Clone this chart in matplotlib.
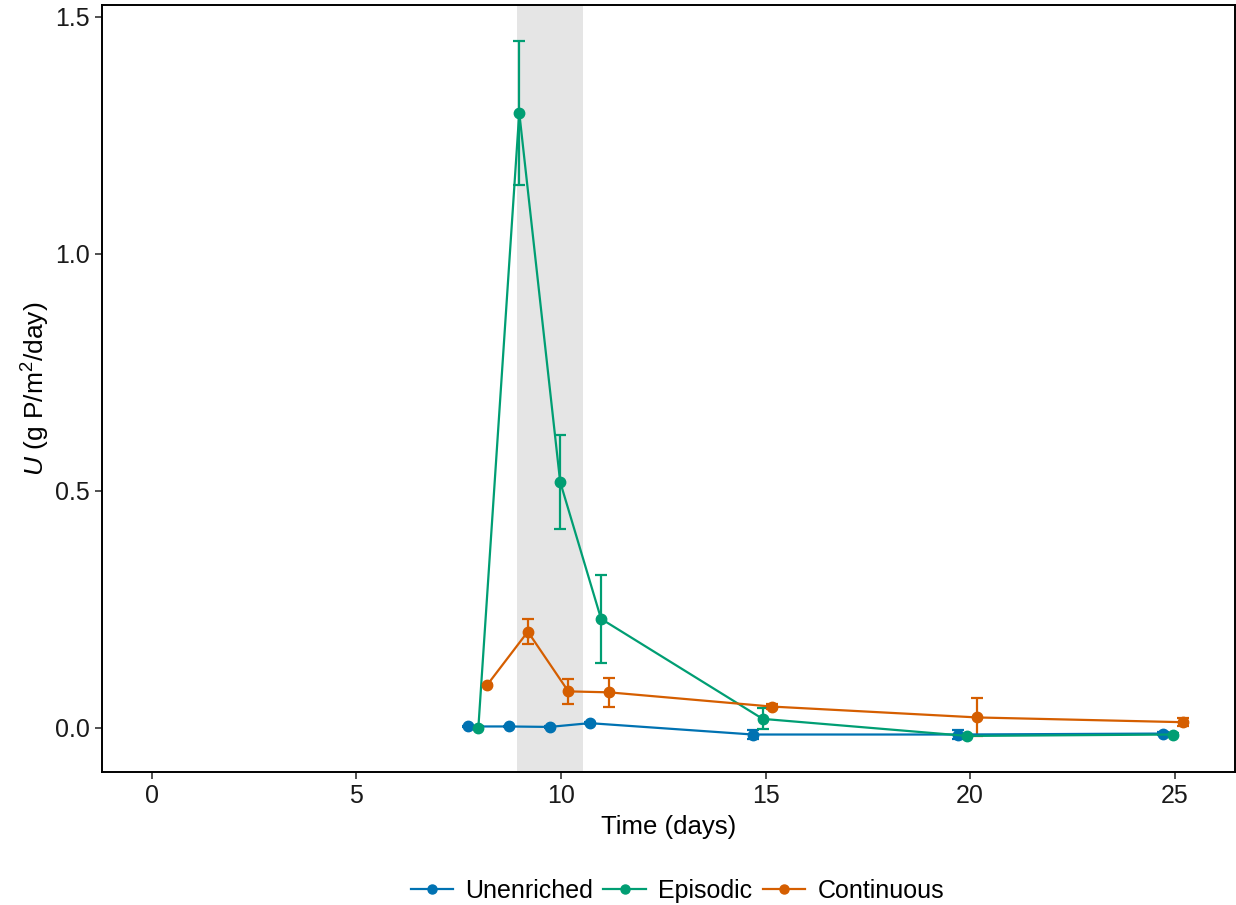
import matplotlib
matplotlib.use("Agg")
import matplotlib.pyplot as plt
from matplotlib.lines import Line2D

plt.rcParams['font.family'] = ['Liberation Sans', 'DejaVu Sans']
plt.rcParams['mathtext.fontset'] = 'custom'
plt.rcParams['mathtext.rm'] = 'Liberation Sans'
plt.rcParams['mathtext.it'] = 'Liberation Sans:italic'

# ---- data ----
series_names = ["Unenriched", "Episodic", "Continuous"]
colors = ["#0072B2", "#009E73", "#D55E00"]

unenriched_t = [7.72, 8.72, 9.72, 10.7, 14.69, 19.71, 24.71]
unenriched_y = [0.003, 0.003, 0.002, 0.010, -0.014, -0.014, -0.012]
unenriched_e = [0.002, 0.002, 0.002, 0.002, 0.010, 0.010, 0.003]

episodic_t = [7.98, 8.98, 9.98, 10.98, 14.93, 19.93, 24.96]
episodic_y = [0.000, 1.298, 0.519, 0.230, 0.019, -0.017, -0.014]
episodic_e = [0.003, 0.152, 0.099, 0.093, 0.022, 0.003, 0.003]

continuous_t = [8.2, 9.19, 10.18, 11.17, 15.15, 20.18, 25.2]
continuous_y = [0.091, 0.203, 0.077, 0.075, 0.045, 0.022, 0.012]
continuous_e = [0.002, 0.027, 0.027, 0.030, 0.005, 0.040, 0.008]

shade_start, shade_end = 8.92, 10.53
x_ticks = [0, 5, 10, 15, 20, 25]
y_ticks = [0.0, 0.5, 1.0, 1.5]
y_tick_labels = ["0.0", "0.5", "1.0", "1.5"]

# ---- plot ----
fig = plt.figure(figsize=(12.36, 9.05), dpi=100)
ax = fig.add_axes([0.0825, 0.147, 0.9165, 0.8475])

ax.axvspan(shade_start, shade_end, color="#E5E5E5", lw=0, zorder=0)

data = [(unenriched_t, unenriched_y, unenriched_e),
        (episodic_t, episodic_y, episodic_e),
        (continuous_t, continuous_y, continuous_e)]
for (t, y, e), name, c in zip(data, series_names, colors):
    ax.errorbar(t, y, yerr=e, color=c, lw=1.6, marker="o", ms=7.5,
                capsize=4.5, capthick=1.6, elinewidth=1.6, label=name, zorder=3)

ax.set_xlim(-1.22, 26.47)
ax.set_ylim(-0.093, 1.525)
ax.set_xticks(x_ticks)
ax.set_yticks(y_ticks)
ax.set_yticklabels(y_tick_labels)
ax.tick_params(axis="both", labelsize=18, length=5, width=1.2, color="#333333",
               labelcolor="#1a1a1a", direction="out", pad=4)
for s in ax.spines.values():
    s.set_linewidth(1.4)
    s.set_color("black")

ax.set_xlabel("Time (days)", fontsize=18.5, labelpad=5)
ax.set_ylabel("$U$ (g P/m$^2$/day)", fontsize=19, labelpad=2)

hs = [Line2D([], [], color=c, marker="o", ms=6.5, lw=1.6) for c in colors]
fig.legend(hs, series_names, loc="center", bbox_to_anchor=(0.548, 0.016),
           ncol=3, frameon=False, fontsize=18, handlelength=1.7,
           handletextpad=0.5, columnspacing=0.4)

fig.savefig("out.png", dpi=100)
